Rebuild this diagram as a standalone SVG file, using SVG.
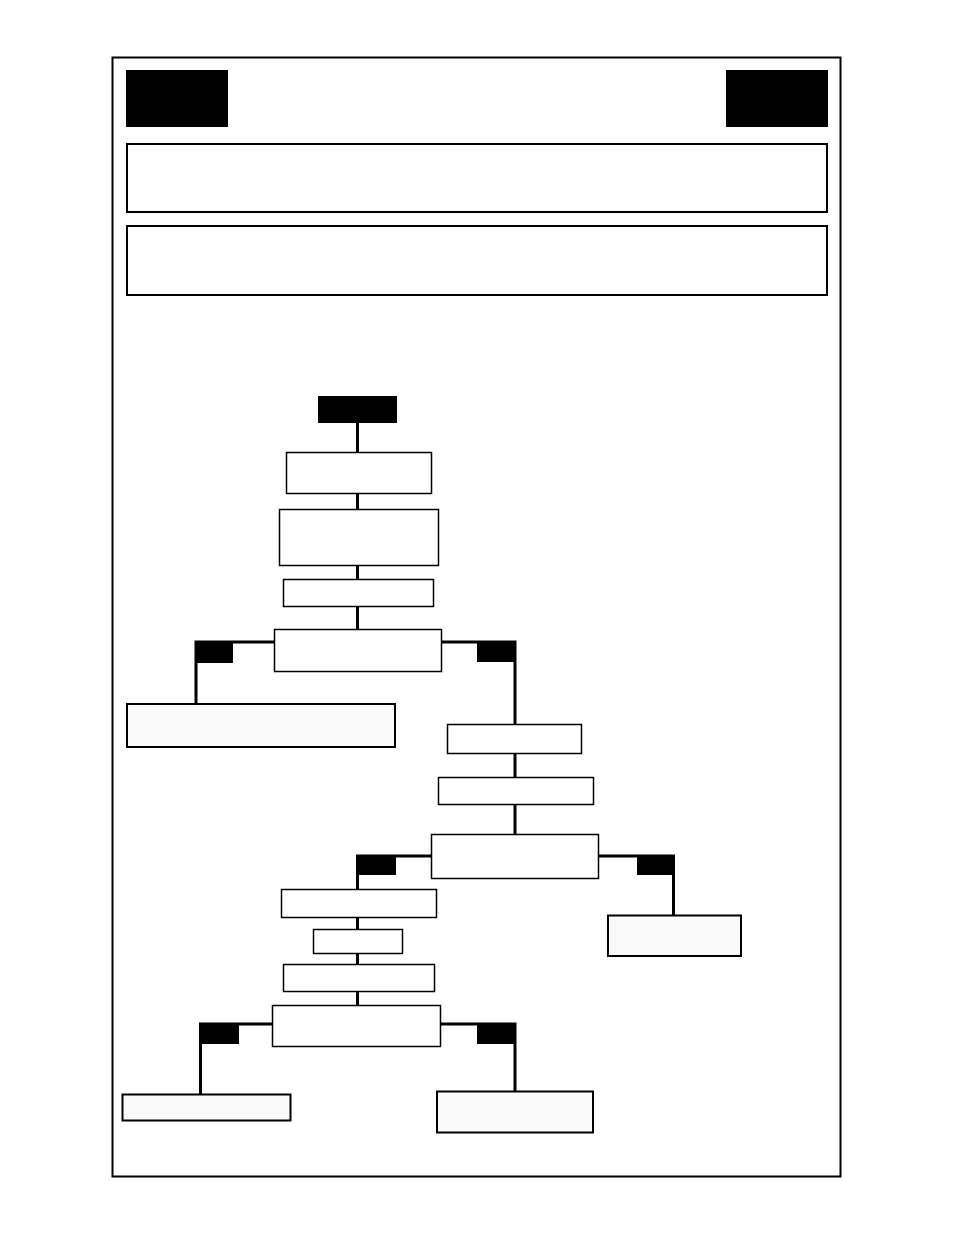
<svg xmlns="http://www.w3.org/2000/svg" width="954" height="1235" viewBox="0 0 954 1235">
<style>
.frame{fill:#fff;stroke:#000;stroke-width:2}
.blk{fill:#000;stroke:none}
.box{fill:#fff;stroke:#000;stroke-width:1.5}
.term{fill:#fafafa;stroke:#000;stroke-width:2}
.hdr{fill:#fff;stroke:#000;stroke-width:2}
.conn{fill:none;stroke:#000;stroke-width:3;stroke-linejoin:miter}
</style>
<rect width="954" height="1235" fill="#fff"/>
<rect class="frame" x="112.5" y="57.5" width="728" height="1119"/>
<g id="header">
<rect id="badge-left" class="blk" x="126" y="70" width="102" height="57"/>
<rect id="badge-right" class="blk" x="726" y="70" width="102" height="57"/>
<rect id="panel-1" class="hdr" x="127" y="144" width="700" height="68"/>
<rect id="panel-2" class="hdr" x="127" y="226" width="700" height="69"/>
</g>
<g id="connectors">
<path class="conn" d="M357.5 423V452M357.5 494V509M357.5 566V579M357.5 607V629"/>
<path class="conn" d="M274 642H196V703M442 642H515V724"/>
<path class="conn" d="M515 754V777M515 805V834"/>
<path class="conn" d="M431 856H357.5V889M599 856H673.5V915"/>
<path class="conn" d="M357.5 918V929M357.5 953V964M357.5 991V1005"/>
<path class="conn" d="M272 1024H200.5V1094M441 1024H515V1091"/>
<rect class="blk" x="195" y="642" width="38" height="21"/>
<rect class="blk" x="477" y="642" width="37" height="20"/>
<rect class="blk" x="357" y="855" width="39" height="20"/>
<rect class="blk" x="637" y="855" width="37" height="20"/>
<rect class="blk" x="200" y="1023" width="39" height="21"/>
<rect class="blk" x="477" y="1023" width="38" height="21"/>
</g>
<g id="start"><rect class="blk" x="318" y="396" width="79" height="27"/></g>
<g id="node-a"><rect class="box" x="286.5" y="452.5" width="145" height="41"/></g>
<g id="node-b"><rect class="box" x="279.5" y="509.5" width="159" height="56"/></g>
<g id="node-c"><rect class="box" x="283.5" y="579.5" width="150" height="27"/></g>
<g id="node-d"><rect class="box" x="274.5" y="629.5" width="167" height="42"/></g>
<g id="node-e"><rect class="term" x="127" y="704" width="268" height="43"/></g>
<g id="node-f"><rect class="box" x="447.5" y="724.5" width="134" height="29"/></g>
<g id="node-g"><rect class="box" x="438.5" y="777.5" width="155" height="27"/></g>
<g id="node-h"><rect class="box" x="431.5" y="834.5" width="167" height="44"/></g>
<g id="node-o"><rect class="term" x="608" y="915.5" width="133" height="40.5"/></g>
<g id="node-i"><rect class="box" x="281.5" y="889.5" width="155" height="28"/></g>
<g id="node-j"><rect class="box" x="313.5" y="929.5" width="89" height="24"/></g>
<g id="node-k"><rect class="box" x="283.5" y="964.5" width="151" height="27"/></g>
<g id="node-l"><rect class="box" x="272.5" y="1005.5" width="168" height="41"/></g>
<g id="node-m"><rect class="term" x="122.5" y="1094.5" width="168" height="26"/></g>
<g id="node-n"><rect class="term" x="437" y="1091.5" width="156" height="41"/></g>
</svg>
